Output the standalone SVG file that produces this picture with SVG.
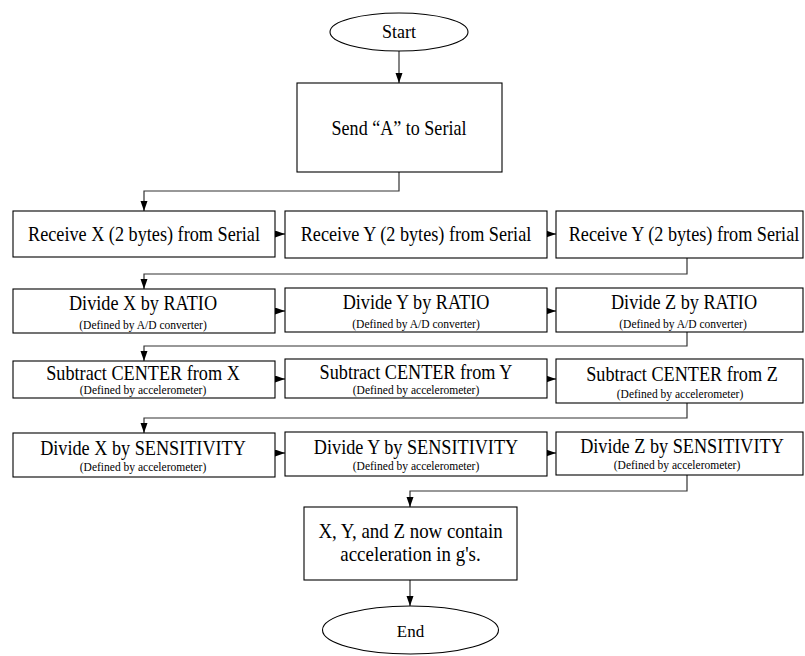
<svg xmlns="http://www.w3.org/2000/svg" width="805" height="656" viewBox="0 0 805 656">
<style>
  .b{fill:#fff;stroke:#000;stroke-width:1.1}
  .c{fill:none;stroke:#333;stroke-width:1.2}
  text{font-family:'Liberation Serif','DejaVu Serif',serif;fill:#000;text-anchor:middle}
  .m{font-size:21px}
  .s{font-size:12px}
  .t{font-size:18px}
</style>
<defs>
  <marker id="ah" markerUnits="userSpaceOnUse" markerWidth="11" markerHeight="8" refX="10" refY="3.5" orient="auto">
    <path d="M0,0 L10,3.5 L0,7 z" fill="#000"/>
  </marker>
</defs>
<rect width="805" height="656" fill="#fff"/>

<g id="connectors">
  <path class="c" d="M399,51 V83" marker-end="url(#ah)"/>
  <path class="c" d="M399,172 V191 H144 V211" marker-end="url(#ah)"/>
  <path class="c" d="M275,234 H285" marker-end="url(#ah)"/>
  <path class="c" d="M547,234 H556" marker-end="url(#ah)"/>
  <path class="c" d="M687,258 V274 H144 V289" marker-end="url(#ah)"/>
  <path class="c" d="M275,311 H285" marker-end="url(#ah)"/>
  <path class="c" d="M547,311 H556" marker-end="url(#ah)"/>
  <path class="c" d="M687,332 V346 H144 V361" marker-end="url(#ah)"/>
  <path class="c" d="M275,379 H285" marker-end="url(#ah)"/>
  <path class="c" d="M547,379 H556" marker-end="url(#ah)"/>
  <path class="c" d="M687,403 V418 H144 V433" marker-end="url(#ah)"/>
  <path class="c" d="M275,453 H285" marker-end="url(#ah)"/>
  <path class="c" d="M547,453 H556" marker-end="url(#ah)"/>
  <path class="c" d="M687,475 V491 H410 V507" marker-end="url(#ah)"/>
  <path class="c" d="M410,580 V606" marker-end="url(#ah)"/>
</g>

<g id="start">
  <ellipse class="b" cx="399" cy="32" rx="69" ry="19"/>
  <text class="t" x="399" y="38">Start</text>
</g>

<g id="send">
  <rect class="b" x="297" y="83" width="205" height="89"/>
  <text class="m" transform="translate(399,135) scale(0.86,1)">Send “A” to Serial</text>
</g>

<g id="recvX">
  <rect class="b" x="13" y="211" width="262" height="46"/>
  <text class="m" transform="translate(144,241) scale(0.867,1)">Receive X (2 bytes) from Serial</text>
</g>
<g id="recvY">
  <rect class="b" x="285" y="211" width="262" height="47"/>
  <text class="m" transform="translate(416,241) scale(0.867,1)">Receive Y (2 bytes) from Serial</text>
</g>
<g id="recvZ">
  <rect class="b" x="556" y="211" width="247" height="47"/>
  <text class="m" transform="translate(684,241) scale(0.867,1)">Receive Y (2 bytes) from Serial</text>
</g>

<g id="divX">
  <rect class="b" x="13" y="289" width="262" height="44"/>
  <text class="m" transform="translate(143,310) scale(0.867,1)">Divide X by RATIO</text>
  <text class="s" transform="translate(143,329) scale(0.96,1)">(Defined by A/D converter)</text>
</g>
<g id="divY">
  <rect class="b" x="285" y="288" width="262" height="44"/>
  <text class="m" transform="translate(416,309) scale(0.867,1)">Divide Y by RATIO</text>
  <text class="s" transform="translate(416,328) scale(0.96,1)">(Defined by A/D converter)</text>
</g>
<g id="divZ">
  <rect class="b" x="556" y="288" width="247" height="44"/>
  <text class="m" transform="translate(684,309) scale(0.867,1)">Divide Z by RATIO</text>
  <text class="s" transform="translate(683,328) scale(0.96,1)">(Defined by A/D converter)</text>
</g>

<g id="subX">
  <rect class="b" x="13" y="361" width="262" height="37"/>
  <text class="m" transform="translate(143,380) scale(0.867,1)">Subtract CENTER from X</text>
  <text class="s" transform="translate(143,394) scale(0.96,1)">(Defined by accelerometer)</text>
</g>
<g id="subY">
  <rect class="b" x="285" y="359" width="262" height="39"/>
  <text class="m" transform="translate(416,379) scale(0.867,1)">Subtract CENTER from Y</text>
  <text class="s" transform="translate(416,394) scale(0.96,1)">(Defined by accelerometer)</text>
</g>
<g id="subZ">
  <rect class="b" x="556" y="359" width="247" height="44"/>
  <text class="m" transform="translate(682,381) scale(0.867,1)">Subtract CENTER from Z</text>
  <text class="s" transform="translate(680,398) scale(0.96,1)">(Defined by accelerometer)</text>
</g>

<g id="sensX">
  <rect class="b" x="13" y="433" width="262" height="44"/>
  <text class="m" transform="translate(143,455) scale(0.867,1)">Divide X by SENSITIVITY</text>
  <text class="s" transform="translate(143,471) scale(0.96,1)">(Defined by accelerometer)</text>
</g>
<g id="sensY">
  <rect class="b" x="285" y="432" width="262" height="44"/>
  <text class="m" transform="translate(416,454) scale(0.867,1)">Divide Y by SENSITIVITY</text>
  <text class="s" transform="translate(416,470) scale(0.96,1)">(Defined by accelerometer)</text>
</g>
<g id="sensZ">
  <rect class="b" x="556" y="432" width="247" height="43"/>
  <text class="m" transform="translate(682,453) scale(0.867,1)">Divide Z by SENSITIVITY</text>
  <text class="s" transform="translate(677,469) scale(0.96,1)">(Defined by accelerometer)</text>
</g>

<g id="result">
  <rect class="b" x="304" y="507" width="213" height="73"/>
  <text class="m" transform="translate(410.5,538) scale(0.9,1)">X, Y, and Z now contain</text>
  <text class="m" transform="translate(410.5,561) scale(0.9,1)">acceleration in g's.</text>
</g>

<g id="end">
  <ellipse class="b" cx="410.5" cy="630" rx="88" ry="24"/>
  <text class="t" x="410.5" y="637" style="font-size:17px">End</text>
</g>
</svg>
